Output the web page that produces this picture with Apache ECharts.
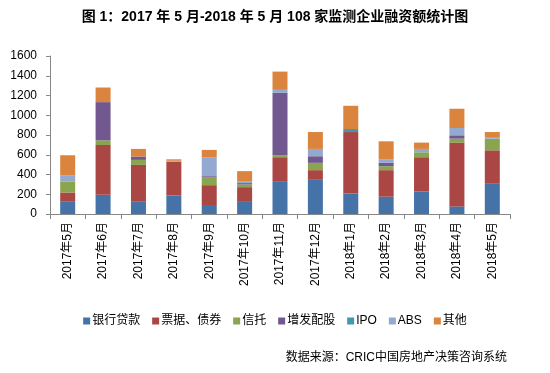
<!DOCTYPE html>
<html><head><meta charset="utf-8">
<script src="https://cdn.jsdelivr.net/npm/echarts@6/dist/echarts.min.js"></script>
<style>html,body{margin:0;padding:0;background:#fff}#c{width:550px;height:373px}</style>
</head><body><div id="c"></div>
<script>
var categories = ['2017年5月','2017年6月','2017年7月','2017年8月','2017年9月','2017年10月','2017年11月','2017年12月','2018年1月','2018年2月','2018年3月','2018年4月','2018年5月'];
var bankLoan = [124,195,124,188,91,131,326,346,208,175,229,77,306];
var bills    = [94,504,373,343,201,141,249,98,622,269,346,646,339];
var trust    = [108,47,51,0,78,27,20,74,0,40,50,40,118];
var placement= [0,387,34,0,13,14,632,67,0,34,0,34,0];
var ipo      = [0,0,0,0,0,0,0,0,31,0,0,0,0];
var abs      = [67,0,0,8,188,20,30,74,0,33,34,74,17];
var other    = [202,148,77,15,78,101,185,171,235,185,64,195,50];
var seriesNames = ['银行贷款','票据、债券','信托','增发配股','IPO','ABS','其他'];
var seriesData = [bankLoan,bills,trust,placement,ipo,abs,other];
var colors = ['#4572A7','#AA4643','#89A54E','#71588F','#4198AF','#93A9CF','#DB843D'];

var font = 'Arial, "Liberation Sans", "Noto Sans CJK SC", sans-serif';
var chart = echarts.init(document.getElementById('c'));
chart.setOption({
  animation:false,
  color: colors,
  textStyle:{fontFamily:font},
  title:[{
    text:'图 1：2017 年 5 月-2018 年 5 月 108 家监测企业融资额统计图',
    left:'center', top:5,
    textStyle:{fontSize:14,fontWeight:'bold',color:'#000',fontFamily:font}
  },{
    text:'数据来源：CRIC中国房地产决策咨询系统',
    right:38, top:347,
    textStyle:{fontSize:12,fontWeight:'normal',color:'#000',fontFamily:font}
  }],
  legend:{
    data:seriesNames, top:310, left:'center',
    itemWidth:7, itemHeight:7, itemGap:12, icon:'rect',
    textStyle:{fontSize:12,color:'#000',padding:[0,0,0,-3]}
  },
  grid:{left:50,right:40,top:56,bottom:159,containLabel:false},
  xAxis:{
    type:'category', data:categories,
    axisLine:{lineStyle:{color:'#888'}},
    axisTick:{show:true,alignWithLabel:false,length:5,lineStyle:{color:'#888'}},
    axisLabel:{rotate:90,fontSize:12,color:'#000',margin:8,interval:0}
  },
  yAxis:{
    type:'value', min:0, max:1600, interval:200,
    axisLine:{show:true,lineStyle:{color:'#888'}},
    axisTick:{show:true,length:4,lineStyle:{color:'#888'}},
    splitLine:{show:false},
    axisLabel:{fontSize:12,color:'#000',margin:13,formatter:function(v){return String(v);}}
  },
  series: seriesNames.map(function(n,i){
    return {name:n,type:'bar',stack:'total',data:seriesData[i],barWidth:15,
      itemStyle:{color:colors[i]}};
  })
});
</script></body></html>
